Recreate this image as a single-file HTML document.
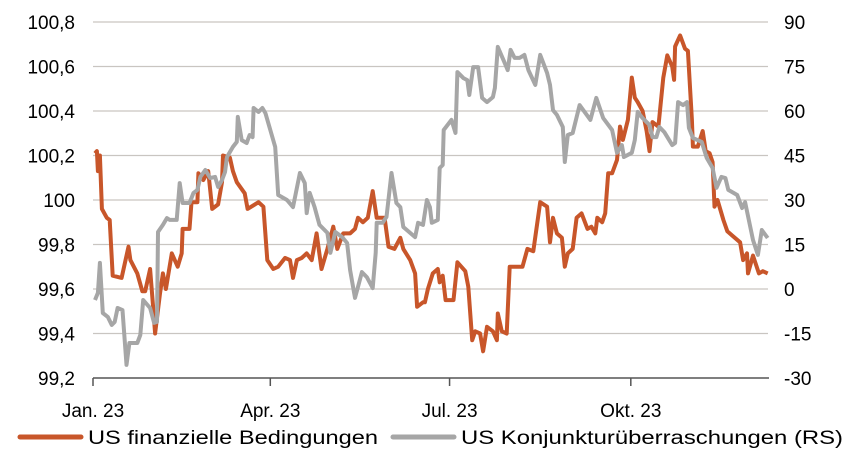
<!DOCTYPE html>
<html><head><meta charset="utf-8">
<style>
html,body{margin:0;padding:0;background:#fff;}
svg{display:block;font-family:"Liberation Sans",Arial,sans-serif;}
</style></head>
<body>
<svg id="chart" width="854" height="463" viewBox="0 0 854 463" xmlns="http://www.w3.org/2000/svg">
<g id="grid"></g>
<g id="yl"></g>
<g id="yr"></g>
<g id="xa"></g>
<g id="series"></g>
<g>
  <g>
    <line x1="20" y1="437" x2="81" y2="437" stroke="#c8562a" stroke-width="5" stroke-linecap="round"/>
    <text x="88" y="444" font-size="19" fill="#000" textLength="290" lengthAdjust="spacingAndGlyphs">US finanzielle Bedingungen</text>
  </g>
  <g>
    <line x1="393" y1="437" x2="454" y2="437" stroke="#a6a6a6" stroke-width="5" stroke-linecap="round"/>
    <text x="461" y="444" font-size="19" fill="#000" textLength="382" lengthAdjust="spacingAndGlyphs">US Konjunkturüberraschungen (RS)</text>
  </g>
</g>
</svg>
<script>
const leftTicks = [99.2, 99.4, 99.6, 99.8, 100, 100.2, 100.4, 100.6, 100.8];
const leftTickLabels = ["99,2","99,4","99,6","99,8","100","100,2","100,4","100,6","100,8"];
const rightTicks = [-30, -15, 0, 15, 30, 45, 60, 75, 90];
const rightTickLabels = ["-30","-15","0","15","30","45","60","75","90"];
const monthDays = [0, 90, 181, 273];
const monthLabels = ["Jan. 23","Apr. 23","Jul. 23","Okt. 23"];

const finDays = [1,2,2.5,3.5,4.5,7,8.5,10,14.5,18,19,22.5,25,26.5,29,30.5,31.5,34,35.5,37,40,43,45,45.5,49,50,53,53.5,56,58.5,60.5,63.5,65.5,66,69.5,71,73,77,78.5,84,86.5,88.5,91.5,94,97.5,100,101.5,103.5,106,108.5,111,113.5,116,119,122,124,127,130.5,133,134.5,137,139.5,142,144,148,150,153,156,157.5,161,163.5,164.5,167.5,168.5,170,172.5,175,176,177.5,179,183,185,189,190.5,192.5,194,196.5,198,200,203,205,205.5,207.5,210,211.5,215,218,220.5,223.5,227,230.5,232,233.5,235.5,238,239.5,241,243.5,245.5,248,251,253,255,256,258.5,260,261.5,263.5,266,267.5,269,271.5,273.5,275,276.5,279,281,282.5,284,287,289.5,291.5,294,295,295.5,298,300.5,302,304,304.5,307,309.5,311,313,314.5,315.5,317,320,322,324.5,328.5,330,332,332.5,335,338,340,342.5];
const finValues = [100.21,100.22,100.13,100.20,99.96,99.92,99.91,99.66,99.65,99.79,99.73,99.67,99.59,99.59,99.69,99.52,99.40,99.58,99.67,99.60,99.76,99.70,99.76,99.87,99.87,99.99,99.99,100.12,100.09,100.13,99.96,99.98,100.08,100.20,100.19,100.13,100.08,100.03,99.96,99.99,99.97,99.73,99.69,99.70,99.74,99.73,99.65,99.73,99.74,99.76,99.73,99.85,99.69,99.78,99.88,99.78,99.85,99.85,99.87,99.92,99.90,99.92,100.04,99.92,99.92,99.79,99.78,99.83,99.78,99.73,99.67,99.52,99.54,99.54,99.60,99.67,99.69,99.63,99.66,99.55,99.55,99.72,99.68,99.61,99.37,99.41,99.40,99.32,99.43,99.41,99.37,99.49,99.41,99.40,99.70,99.70,99.70,99.78,99.77,99.99,99.97,99.81,99.92,99.85,99.83,99.70,99.76,99.78,99.92,99.94,99.87,99.88,99.85,99.92,99.90,99.94,100.12,100.12,100.18,100.33,100.27,100.36,100.55,100.46,100.44,100.40,100.31,100.22,100.35,100.33,100.55,100.65,100.60,100.54,100.69,100.74,100.68,100.67,100.36,100.24,100.24,100.31,100.22,100.21,100.17,99.97,100.00,99.91,99.86,99.84,99.81,99.73,99.76,99.67,99.75,99.67,99.68,99.67];

const surDays = [1,2.5,3.5,5,7.5,9.5,11,12.5,15,17,18.5,22.5,24,25.5,29,31,32.5,33,35.5,37.5,39,42.5,44,45.5,49,51,53,54.5,57,59.5,62,63.5,65.5,67,68,71,73,73.5,75.5,78,79.5,81,81.5,84,86,87.5,90,92.5,94,98.5,101.5,105,107.5,108.5,110,112.5,114,115,119,120.5,123,126.5,129,130.5,133,134.5,136.5,139,142,143.5,144,147,149,151.5,154,156,157.5,163.5,165,167.5,169.5,171,172,175,176,177.5,178,182,184,185,188,190,191,193,195.5,197.5,200,203,204,205.5,209,210.5,212,214,216.5,219,221,224.5,227,230.5,232,233.5,235.5,238.5,239.5,241,243.5,247,252.5,255.5,259,263.5,266,268.5,269.5,273.5,275,276.5,279,282.5,284,286,287.5,290,294,295.5,297,299.5,301.5,302.5,304.5,309,311.5,314.5,316.5,319,321,322.5,327,329.5,331,335,337.5,339.5,342.5];
const surValues = [-3.7,-1.3,8.8,-8.1,-9.4,-12.1,-11.1,-6.4,-7.1,-25.6,-18.2,-18.2,-15.5,-3.7,-6.4,-11.4,-11.1,19.2,21.6,23.9,23.3,23.3,35.7,29,29,32.4,33.4,37.8,40.1,37.4,37.8,34.4,36.7,39.4,44.5,47.9,49.6,58,50.2,49.2,51.9,51.2,61,59.7,61,59.3,53.6,47.9,31.7,30,27.6,39.1,35.7,25.6,32.4,27.6,23.9,21.6,18.9,12.2,19.2,17.5,15.5,6.4,-3,0.7,5.7,4,0.3,12.2,22.3,22.3,24.3,39.1,29,27.6,20.9,17.5,22.3,21.6,30,27.6,22.3,23.3,40.8,41.8,53.6,57,52.6,73.1,71.1,70.4,65.4,74.8,74.8,64.4,63,64.7,67.8,81.6,76.2,73.8,80.6,77.9,77.9,78.9,73.8,68.8,78.9,72.8,68.8,60.3,58.7,54.6,42.8,51.9,52.6,62,57,64.4,57.6,53.6,45.9,48.5,44.5,45.9,50.2,59.7,57.6,55.3,51.2,51.2,54.6,52.9,48.5,49.2,63,62,63,54.3,50.9,49.6,44.2,40.8,34.1,37.8,37.4,33.4,31.7,27.3,29.3,16.5,11.5,19.9,17.2];

const NS = "http://www.w3.org/2000/svg";
const X0 = 93, PXPERDAY = 1.97, YT = 22, YB = 378;
function xScale(d){ return X0 + d * PXPERDAY; }
function yLeft(v){ return YB - (v - 99.2) / (100.8 - 99.2) * (YB - YT); }
function yRight(v){ return YB - (v + 30) / 120 * (YB - YT); }
function mk(tag, attrs, parent){ const e = document.createElementNS(NS, tag); for (const k in attrs) e.setAttribute(k, attrs[k]); parent.appendChild(e); return e; }

const grid = document.getElementById('grid');
const yl = document.getElementById('yl');
const yr = document.getElementById('yr');
const xa = document.getElementById('xa');
const series = document.getElementById('series');

leftTicks.forEach((t, i) => {
  const y = yLeft(t);
  if (i > 0) {
    const g = mk('line', {x1: X0, x2: 768, y1: y, y2: y, stroke: '#c9c5c1', 'stroke-width': 1.3}, grid);
    
    
  }
  const tx = mk('text', {x: 75, y: y + 7, 'text-anchor': 'end', 'font-size': 19, fill: '#000'}, yl);
  tx.textContent = leftTickLabels[i];
  
  
});
rightTicks.forEach((t, i) => {
  const y = yRight(t);
  const tx = mk('text', {x: 784, y: y + 7, 'text-anchor': 'start', 'font-size': 19, fill: '#000'}, yr);
  tx.textContent = rightTickLabels[i];
  
  
});
const ax = mk('line', {x1: X0, x2: 769, y1: YB, y2: YB, stroke: '#555', 'stroke-width': 1.5}, xa);


monthDays.forEach((d, i) => {
  const x = xScale(d);
  const tk = mk('line', {x1: x, x2: x, y1: YB, y2: YB + 8, stroke: '#555', 'stroke-width': 1.5}, xa);
  
  
  const tx = mk('text', {x: x, y: 417, 'text-anchor': 'middle', 'font-size': 19, fill: '#000'}, xa);
  tx.textContent = monthLabels[i];
  
  
});

const finPts = finDays.map((d, i) => xScale(d).toFixed(1) + ',' + yLeft(finValues[i]).toFixed(1)).join(' ');
const fin = mk('polyline', {points: finPts, fill: 'none', stroke: '#c8562a', 'stroke-width': 4, 'stroke-linejoin': 'round'}, series);



const surPts = surDays.map((d, i) => xScale(d).toFixed(1) + ',' + yRight(surValues[i]).toFixed(1)).join(' ');
const sur = mk('polyline', {points: surPts, fill: 'none', stroke: '#a6a6a6', 'stroke-width': 4, 'stroke-linejoin': 'round'}, series);


</script>
</body></html>
